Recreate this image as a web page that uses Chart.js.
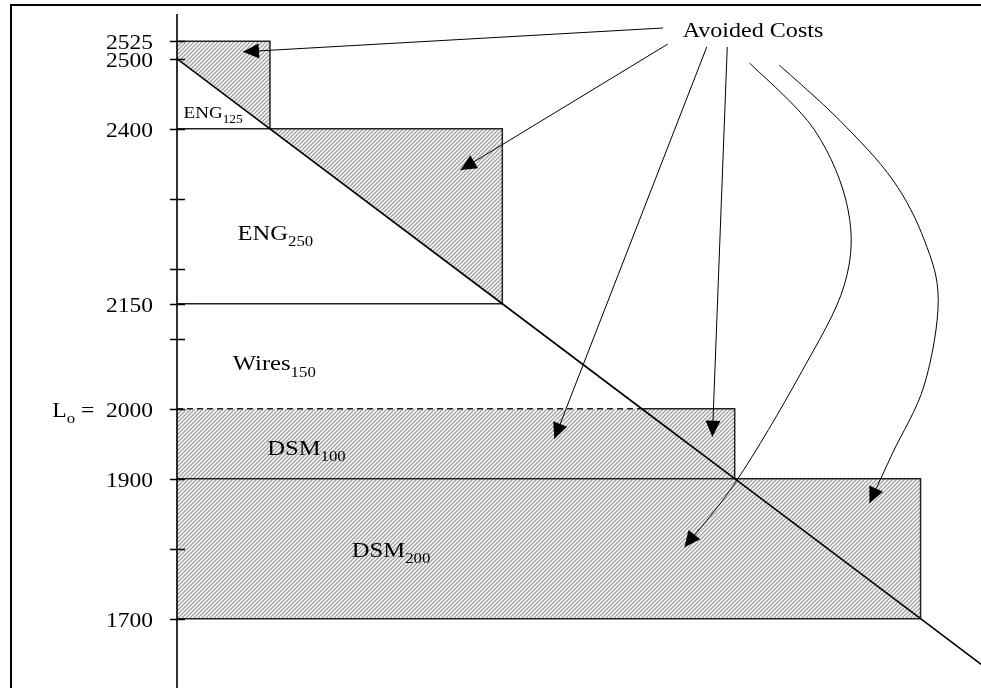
<!DOCTYPE html>
<html>
<head>
<meta charset="utf-8">
<script src="https://cdn.jsdelivr.net/npm/chart.js@4.4.0/dist/chart.umd.min.js"></script>
<style>
html, body { margin: 0; padding: 0; background: #fff; }
</style>
</head>
<body>
<canvas id="chart" width="981" height="688"></canvas>
<script>
// load levels (MW) marked on the axis, and the ones that carry a label
const axisLevels = [1700, 1800, 1900, 2000, 2100, 2150, 2200, 2300, 2400, 2500, 2525];
const labelLevels = [1700, 1900, 2000, 2150, 2400, 2500, 2525];

// demand line
const loadX = [0, 1, 3.5, 5, 6, 8, 8.7];
const loadY = [2500, 2400, 2150, 2000, 1900, 1700, 1630];

// ENG 125 block and its avoided-cost part
const eng125X = [0, 1, 1, 0];
const eng125Y = [2525, 2525, 2400, 2500];
// ENG 250 block and its avoided-cost triangle
const eng250BoxX = [0, 3.5, 3.5, 0];
const eng250BoxY = [2400, 2400, 2150, 2150];
const eng250CutX = [1, 3.5, 3.5];
const eng250CutY = [2400, 2400, 2150];
// DSM 100 block
const dsm100X = [0, 6, 6, 0];
const dsm100Y = [2000, 2000, 1900, 1900];
// DSM 200 block
const dsm200X = [0, 8, 8, 0];
const dsm200Y = [1900, 1900, 1700, 1700];

// annotation arrows (data units)
const straightArrows = [
  [[5.23, 2544], [0.71, 2510]],
  [[5.28, 2521], [3.05, 2341]],
  [[5.70, 2517], [4.06, 1957]],
  [[5.92, 2517], [5.76, 1960]]
];
const curveA = [[6.16, 2494], [6.86, 2398], [7.22, 2284], [7.18, 2177], [6.70, 2048], [6.02, 1897], [5.46, 1802]];
const curveB = [[6.48, 2491], [7.13, 2412], [7.70, 2327], [8.04, 2241], [8.19, 2155], [8.04, 2034], [7.70, 1937], [7.45, 1865]];

const blockLabels = [
  { at: [0.07, 2415], parts: [['ENG', 0], ['125', 1]], size: 17 },
  { at: [0.65, 2241], parts: [['ENG', 0], ['250', 1]], size: 22 },
  { at: [0.60, 2055], parts: [['Wires', 0], ['150', 1]], size: 22 },
  { at: [0.97, 1934], parts: [['DSM', 0], ['100', 1]], size: 22 },
  { at: [1.88, 1788], parts: [['DSM', 0], ['200', 1]], size: 22 },
  { at: [5.44, 2531], parts: [['Avoided Costs', 0]], size: 21.5 }
];

const FONT = '"Liberation Serif", "Times New Roman", serif';
const STRETCH = 1.12;

const hatch = (() => {
  const c = document.createElement('canvas');
  c.width = 4; c.height = 4;
  const g = c.getContext('2d');
  g.strokeStyle = '#a0a0a0';
  g.lineWidth = 1.3;
  g.beginPath();
  g.moveTo(0, 4); g.lineTo(4, 0);
  g.moveTo(-1, 1); g.lineTo(1, -1);
  g.moveTo(3, 5); g.lineTo(5, 3);
  g.stroke();
  return g.createPattern(c, 'repeat');
})();

const pts = (xs, ys) => xs.map((x, i) => ({ x: x, y: ys[i] }));

const area = (xs, ys) => ({
  data: pts(xs.concat(xs[0]), ys.concat(ys[0])),
  showLine: true, fill: 'shape', backgroundColor: hatch,
  borderWidth: 0, pointRadius: 0, order: 3
});

const edge = (xs, ys, dash) => ({
  data: pts(xs, ys), showLine: true, fill: false,
  borderColor: '#222', borderWidth: 1.5, borderDash: dash || [],
  pointRadius: 0, order: 2
});

// text with optional subscripts, a little wider like the printed figure
const writeParts = (ctx, parts, x, y, size, align) => {
  const sub = Math.round(size * 0.7);
  ctx.save();
  ctx.textBaseline = 'alphabetic';
  ctx.textAlign = 'left';
  ctx.fillStyle = '#000';
  let w = 0;
  parts.forEach(([t, s]) => {
    ctx.font = `${s ? sub : size}px ${FONT}`;
    w += ctx.measureText(t).width;
  });
  ctx.translate(x, y);
  ctx.scale(STRETCH, 1);
  let cx = align === 'right' ? -w : 0;
  parts.forEach(([t, s]) => {
    ctx.font = `${s ? sub : size}px ${FONT}`;
    ctx.fillText(t, cx, s ? size * 0.29 : 0);
    cx += ctx.measureText(t).width;
  });
  ctx.restore();
};

const arrowHead = (ctx, from, tip) => {
  const a = Math.atan2(tip.y - from.y, tip.x - from.x);
  const len = 16, half = 7.5;
  ctx.beginPath();
  ctx.moveTo(tip.x, tip.y);
  ctx.lineTo(tip.x - len * Math.cos(a) + half * Math.sin(a), tip.y - len * Math.sin(a) - half * Math.cos(a));
  ctx.lineTo(tip.x - len * Math.cos(a) - half * Math.sin(a), tip.y - len * Math.sin(a) + half * Math.cos(a));
  ctx.closePath();
  ctx.fill();
};

const smoothCurve = (ctx, p) => {
  ctx.beginPath();
  ctx.moveTo(p[0].x, p[0].y);
  for (let i = 0; i < p.length - 1; i++) {
    const p0 = p[i - 1] || p[i], p1 = p[i], p2 = p[i + 1], p3 = p[i + 2] || p2;
    ctx.bezierCurveTo(
      p1.x + (p2.x - p0.x) / 6, p1.y + (p2.y - p0.y) / 6,
      p2.x - (p3.x - p1.x) / 6, p2.y - (p3.y - p1.y) / 6,
      p2.x, p2.y);
  }
  ctx.stroke();
};

const decor = {
  id: 'decor',
  afterDraw(chart) {
    const ctx = chart.ctx;
    const xs = chart.scales.x, ys = chart.scales.y;
    const px = (p) => ({ x: xs.getPixelForValue(p[0]), y: ys.getPixelForValue(p[1]) });
    const area = chart.chartArea;
    const x0 = xs.getPixelForValue(0);

    ctx.save();
    // frame
    ctx.strokeStyle = '#000';
    ctx.lineWidth = 2;
    ctx.strokeRect(11, 5, chart.width + 20, chart.height + 20);

    // vertical axis and ticks
    ctx.lineWidth = 1.6;
    ctx.beginPath();
    ctx.moveTo(x0, area.top);
    ctx.lineTo(x0, area.bottom);
    axisLevels.forEach(v => {
      const y = Math.round(ys.getPixelForValue(v)) + 0.5;
      ctx.moveTo(x0 - 7, y);
      ctx.lineTo(x0 + 8, y);
    });
    ctx.stroke();

    labelLevels.forEach(v => {
      const y = ys.getPixelForValue(v) + 8;
      const parts = v === 2000
        ? [['L', 0], ['o', 1], [' =  2000', 0]]
        : [[String(v), 0]];
      writeParts(ctx, parts, x0 - 24, y, 21, 'right');
    });

    blockLabels.forEach(l => {
      const p = px(l.at);
      writeParts(ctx, l.parts, p.x, p.y, l.size, 'left');
    });

    // arrows
    ctx.strokeStyle = '#000';
    ctx.fillStyle = '#000';
    ctx.lineWidth = 1;
    straightArrows.forEach(([a, b]) => {
      const pa = px(a), pb = px(b);
      ctx.beginPath();
      ctx.moveTo(pa.x, pa.y);
      ctx.lineTo(pb.x, pb.y);
      ctx.stroke();
      arrowHead(ctx, pa, pb);
    });
    [curveA, curveB].forEach(c => {
      const p = c.map(px);
      smoothCurve(ctx, p);
      arrowHead(ctx, p[p.length - 2], p[p.length - 1]);
    });
    ctx.restore();
  }
};

new Chart(document.getElementById('chart'), {
  type: 'scatter',
  data: {
    datasets: [
      area(eng125X, eng125Y),
      area(eng250CutX, eng250CutY),
      area(dsm100X, dsm100Y),
      area(dsm200X, dsm200Y),
      edge([0, 1, 1], [2525, 2525, 2400]),
      edge(eng250BoxX, eng250BoxY),
      edge([0, 5], [2000, 2000], [6, 4]),
      edge([5, 6, 6], [2000, 2000, 1900]),
      edge(dsm200X, dsm200Y),
      {
        data: pts(loadX, loadY), showLine: true, fill: false,
        borderColor: '#000', borderWidth: 1.6, pointRadius: 0, order: 1
      }
    ]
  },
  options: {
    responsive: false,
    animation: false,
    layout: { padding: { left: 177, top: 14, right: 0, bottom: 0 } },
    scales: {
      x: { type: 'linear', min: 0, max: 8.65, display: false },
      y: { type: 'linear', min: 1601, max: 2564, display: false }
    },
    plugins: {
      legend: { display: false },
      tooltip: { enabled: false }
    }
  },
  plugins: [decor]
});
</script>
</body>
</html>
